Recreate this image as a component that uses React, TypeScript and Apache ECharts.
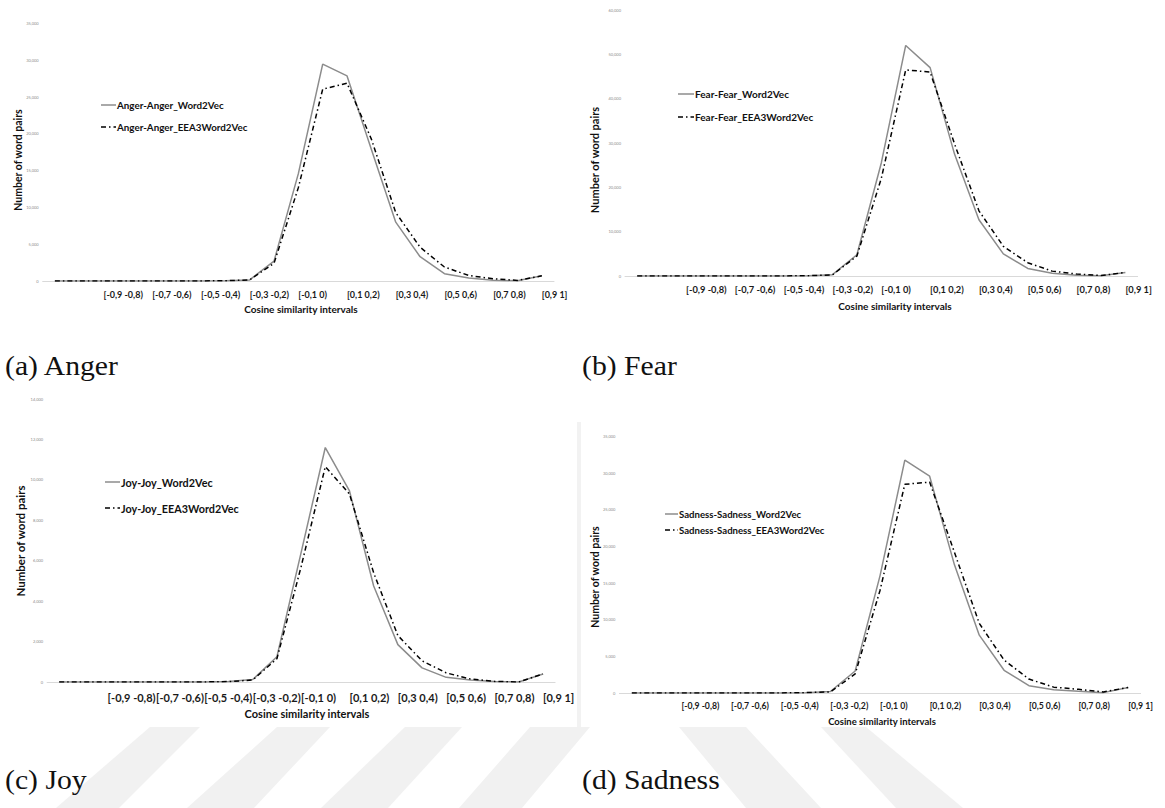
import React, { useEffect, useRef } from "react";
import * as echarts from "echarts";

// 21 category positions (index 0 is an unlabeled leading slot)
const categories = [
  "", "[-1 -0,9)", "[-0,9 -0,8)", "[-0,8 -0,7)", "[-0,7 -0,6)", "[-0,6 -0,5)",
  "[-0,5 -0,4)", "[-0,4 -0,3)", "[-0,3 -0,2)", "[-0,2 -0,1)", "[-0,1 0)",
  "[0 0,1)", "[0,1 0,2)", "[0,2 0,3)", "[0,3 0,4)", "[0,4 0,5)", "[0,5 0,6)",
  "[0,6 0,7)", "[0,7 0,8)", "[0,8 0,9)", "[0,9 1]",
];

const angerWord2Vec = [0, 0, 0, 0, 0, 0, 10, 30, 150, 2700, 14600, 29500, 27900, 17900, 8000, 3300, 1000, 400, 100, 20, 700];
const angerEEA3 = [0, 0, 0, 0, 0, 0, 10, 30, 150, 2400, 12700, 26100, 26900, 19300, 9300, 4600, 1900, 750, 300, 80, 700];

const fearWord2Vec = [0, 0, 0, 0, 0, 0, 20, 60, 300, 4800, 25500, 52000, 47000, 27500, 12700, 5000, 1700, 600, 150, 50, 800];
const fearEEA3 = [0, 0, 0, 0, 0, 0, 20, 60, 250, 4500, 22000, 46500, 46000, 29800, 14700, 6700, 3000, 1100, 450, 100, 800];

const joyWord2Vec = [0, 0, 0, 0, 0, 0, 5, 20, 120, 1250, 6400, 11600, 9450, 4750, 1850, 700, 230, 100, 20, 0, 400];
const joyEEA3 = [0, 0, 0, 0, 0, 0, 5, 20, 100, 1150, 5700, 10650, 9300, 5400, 2300, 1050, 450, 150, 30, 0, 400];

const sadnessWord2Vec = [0, 0, 0, 0, 0, 0, 10, 50, 200, 3000, 16000, 31800, 29600, 17500, 7900, 3100, 1000, 450, 230, 50, 750];
const sadnessEEA3 = [0, 0, 0, 0, 0, 0, 10, 50, 150, 2600, 14000, 28500, 28800, 19200, 9500, 4500, 1900, 800, 500, 150, 750];

const yMax = [35000, 60000, 14000, 35000];
const yStep = [5000, 10000, 2000, 5000];

const emotions = ["Anger", "Fear", "Joy", "Sadness"];
const captions = ["(a) Anger", "(b) Fear", "(c) Joy", "(d) Sadness"];
const xAxisTitle = "Cosine similarity intervals";
const yAxisTitle = "Number of word pairs";

const seriesData = [
  [angerWord2Vec, angerEEA3],
  [fearWord2Vec, fearEEA3],
  [joyWord2Vec, joyEEA3],
  [sadnessWord2Vec, sadnessEEA3],
];

// layout (styles / positions)
const layout = [
  { grid: { left: 42.7, top: 23.7, width: 511.3, height: 257.3 }, lab: 9, labMargin: 9,
    legend: { x: 101, y1: 105, y2: 127, font: 9.8, w: 15 }, yName: { x: 18, y: 160, s: 10.5 },
    xName: { x: 301, y: 309, s: 10 }, cap: { x: 5, y: 366 } },
  { grid: { left: 625, top: 10, width: 512.6, height: 266 }, lab: 9.3, labMargin: 9,
    legend: { x: 678, y1: 94, y2: 117, font: 10, w: 16 }, yName: { x: 594, y: 160, s: 11 },
    xName: { x: 895, y: 306, s: 10 }, cap: { x: 582, y: 366 } },
  { grid: { left: 47.1, top: 399, width: 508, height: 283 }, lab: 11, labMargin: 10,
    legend: { x: 105, y1: 482, y2: 508, font: 10.8, w: 15 }, yName: { x: 20, y: 541, s: 11.5 },
    xName: { x: 307, y: 713, s: 11 }, cap: { x: 5, y: 780 } },
  { grid: { left: 619.4, top: 436.7, width: 521.2, height: 256.3 }, lab: 8.7, labMargin: 8,
    legend: { x: 665, y1: 514, y2: 530, font: 9.6, w: 13 }, yName: { x: 595, y: 577, s: 10.5 },
    xName: { x: 882, y: 721, s: 9.5 }, cap: { x: 582, y: 780 } },
];

const FONT = "Lato, sans-serif";
const SOLID_COLOR = "#8c8c8c";
const DASH = [5, 3, 1.5, 3];

function buildOption() {
  const grid: any[] = [];
  const xAxis: any[] = [];
  const yAxis: any[] = [];
  const series: any[] = [];
  const graphic: any[] = [];

  // watermark stripes
  const wm = "#f1f1f1";
  const slashTop = [[150, 200], [277, 330], [405, 462], [530, 590]];
  const slashBot = [[56, 119], [187, 254], [321, 388], [459, 522]];
  slashTop.forEach((t, i) => {
    const b = slashBot[i];
    graphic.push({ type: "polygon", z: -10, shape: { points: [[t[0], 727], [t[1], 727], [b[1], 808], [b[0], 808]] }, style: { fill: wm } });
  });
  const backTop = [[679, 746], [821, 866]];
  const backBot = [[746, 821], [896, 963]];
  backTop.forEach((t, i) => {
    const b = backBot[i];
    graphic.push({ type: "polygon", z: -10, shape: { points: [[t[0], 727], [t[1], 727], [b[1], 808], [b[0], 808]] }, style: { fill: wm } });
  });
  graphic.push({ type: "rect", z: -10, shape: { x: 577, y: 422, width: 4, height: 305 }, style: { fill: "#f2f2f2" } });

  emotions.forEach((emo, k) => {
    const L = layout[k];
    grid.push({ ...L.grid, containLabel: false });
    xAxis.push({
      type: "category",
      gridIndex: k,
      data: categories,
      boundaryGap: true,
      axisLine: { lineStyle: { color: "#d9d9d9", width: 1 } },
      axisTick: { show: false },
      splitLine: { show: false },
      axisLabel: {
        interval: (idx: number) => idx > 0 && idx % 2 === 0,
        showMinLabel: true,
        showMaxLabel: true,
        hideOverlap: false,
        align: "left",
        fontSize: L.lab,
        fontWeight: "bold",
        fontFamily: FONT,
        color: "#1a1a1a",
        margin: L.labMargin,
      },
    });
    yAxis.push({
      type: "value",
      gridIndex: k,
      min: 0,
      max: yMax[k],
      interval: yStep[k],
      splitLine: { show: false },
      axisLine: { show: false },
      axisTick: { show: false },
      axisLabel: { fontSize: 4, color: "#8c8c8c", margin: 4, fontFamily: FONT },
    });
    const n1 = `${emo}-${emo}_Word2Vec`;
    const n2 = `${emo}-${emo}_EEA3Word2Vec`;
    series.push({
      name: n1, type: "line", xAxisIndex: k, yAxisIndex: k, data: seriesData[k][0],
      symbol: "none", smooth: false, z: 3,
      lineStyle: { color: SOLID_COLOR, width: 1.5 }, itemStyle: { color: SOLID_COLOR },
    });
    series.push({
      name: n2, type: "line", xAxisIndex: k, yAxisIndex: k, data: seriesData[k][1],
      symbol: "none", smooth: false, z: 4,
      lineStyle: { color: "#000000", width: 1.5, type: DASH }, itemStyle: { color: "#000000" },
    });
    // legend (drawn as graphic: line sample + label)
    const lg = L.legend;
    graphic.push({
      type: "line", shape: { x1: lg.x, y1: lg.y1, x2: lg.x + lg.w, y2: lg.y1 },
      style: { stroke: SOLID_COLOR, lineWidth: 1.5 },
    });
    graphic.push({
      type: "text", x: lg.x + lg.w + 1, y: lg.y1,
      style: { text: n1, fontFamily: FONT, fontWeight: "bold", fontSize: lg.font, fill: "#111111", align: "left", verticalAlign: "middle" },
    });
    graphic.push({
      type: "line", shape: { x1: lg.x, y1: lg.y2, x2: lg.x + lg.w, y2: lg.y2 },
      style: { stroke: "#000000", lineWidth: 1.5, lineDash: DASH },
    });
    graphic.push({
      type: "text", x: lg.x + lg.w + 1, y: lg.y2,
      style: { text: n2, fontFamily: FONT, fontWeight: "bold", fontSize: lg.font, fill: "#111111", align: "left", verticalAlign: "middle" },
    });
    graphic.push({
      type: "text", x: L.yName.x, y: L.yName.y, rotation: Math.PI / 2,
      style: { text: yAxisTitle, fontFamily: FONT, fontWeight: "bold", fontSize: L.yName.s, fill: "#111111", align: "center", verticalAlign: "middle" },
    });
    graphic.push({
      type: "text", x: L.xName.x, y: L.xName.y,
      style: { text: xAxisTitle, fontFamily: FONT, fontWeight: "bold", fontSize: L.xName.s, fill: "#111111", align: "center", verticalAlign: "middle" },
    });
    graphic.push({
      type: "text", x: L.cap.x, y: L.cap.y, scaleX: 1.1,
      style: { text: captions[k], fontFamily: "Liberation Serif", fontSize: 27, fill: "#111111", align: "left", verticalAlign: "middle" },
    });
  });

  return {
    animation: false,
    backgroundColor: "#ffffff",
    grid, xAxis, yAxis, series, graphic,
  };
}

export default function App() {
  const ref = useRef<HTMLDivElement>(null);
  useEffect(() => {
    if (!ref.current) return;
    const chart = echarts.init(ref.current, undefined, { renderer: "svg" });
    chart.setOption(buildOption() as any);
    return () => chart.dispose();
  }, []);
  return (
    <div
      ref={ref}
      style={{ position: "absolute", left: 0, top: 0, width: 1165, height: 808, background: "#fff" }}
    />
  );
}
